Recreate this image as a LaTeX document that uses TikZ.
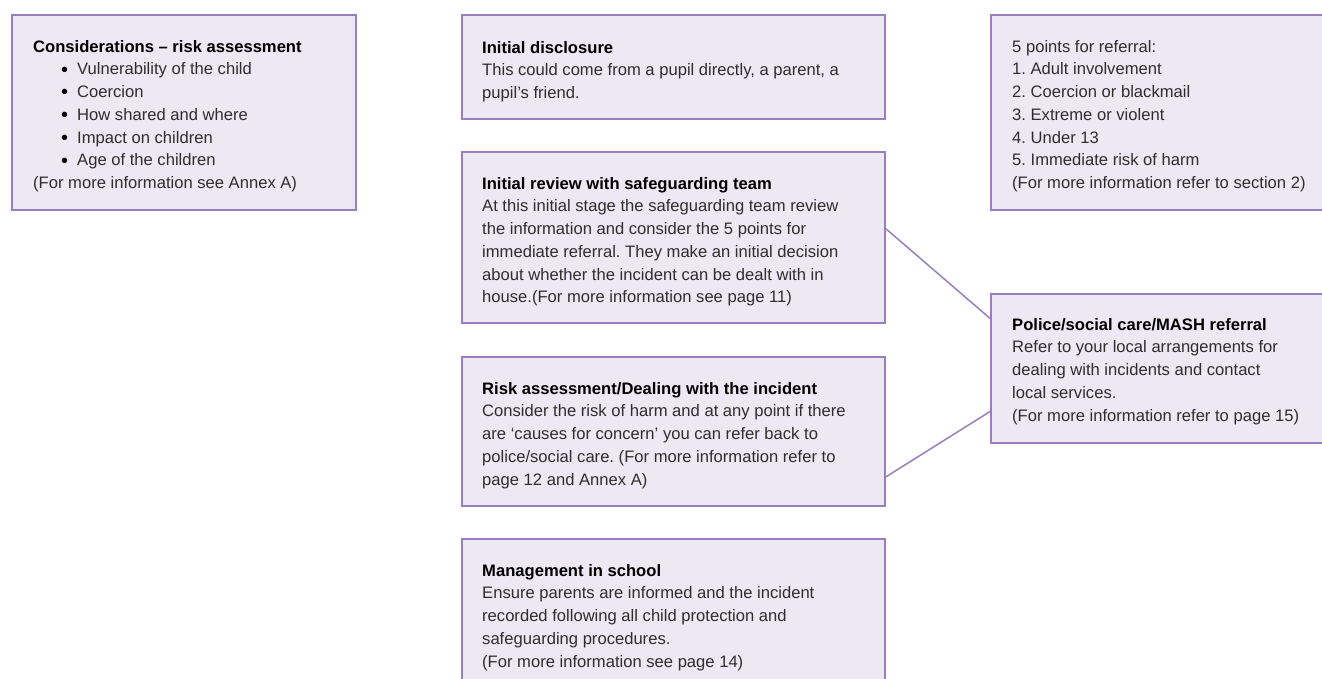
\documentclass[tikz,border=0pt]{standalone}
\usepackage{fontspec}
\setmainfont{Liberation Sans}
\usetikzlibrary{calc}
\frenchspacing
\definecolor{boxfill}{HTML}{ECE8F4}
\definecolor{boxline}{HTML}{9A7EBF}
\definecolor{bodytext}{HTML}{2E2E2E}
\newcommand{\hd}[1]{\textbf{\color{black}#1}}
\newcommand{\bul}{\makebox[44pt][r]{\color{black}\raisebox{-1.3pt}{\scalebox{1.2}{•}}\hspace{9pt}}}
\tikzset{
  panel/.style={draw=boxline, fill=boxfill, line width=2pt, rectangle, anchor=north west, inner sep=0pt},
  txt/.style={anchor=north west, inner sep=0pt, align=left, text=bodytext,
    font=\fontsize{16.6}{22.7}\selectfont\frenchspacing, execute at begin node=\strut},
  link/.style={draw=boxline, line width=1.5pt}
}
\begin{document}
\begin{tikzpicture}[x=1pt,y=-1pt]
\useasboundingbox (0,0) rectangle (1322,679);
\clip (0,0) rectangle (1322,679);
\fill[white] (0,0) rectangle (1322,679);
% boxes
\node[panel, minimum width=344pt, minimum height=195pt] (b1) at (11,14) {};
\node[panel, minimum width=423pt, minimum height=104pt] (b2) at (461,14) {};
\node[panel, minimum width=345pt, minimum height=195pt] (b3) at (990,14) {};
\node[panel, minimum width=423pt, minimum height=171pt] (b4) at (461,151) {};
\node[panel, minimum width=423pt, minimum height=149pt] (b5) at (461,356) {};
\node[panel, minimum width=423pt, minimum height=160pt] (b6) at (461,538) {};
\node[panel, minimum width=345pt, minimum height=149pt] (b7) at (990,293) {};
% texts
\node[txt] (t1) at (33,40) {\hd{Considerations – risk assessment}\\
\bul Vulnerability of the child\\
\bul Coercion\\
\bul How shared and where\\
\bul Impact on children\\
\bul Age of the children\\
(For more information see Annex A)};
\node[txt] (t2) at (482,41) {\hd{Initial disclosure}\\
This could come from a pupil directly, a parent, a\\
pupil’s friend.};
\node[txt] (t3) at (1012,40) {5 points for referral:\\
1. Adult involvement\\
2. Coercion or blackmail\\
3. Extreme or violent\\
4. Under 13\\
5. Immediate risk of harm\\
(For more information refer to section 2)};
\node[txt] (t4) at (482,177) {\hd{Initial review with safeguarding team}\\
At this initial stage the safeguarding team review\\
the information and consider the 5 points for\\
immediate referral. They make an initial decision\\
about whether the incident can be dealt with in\\
house.(For more information see page 11)};
\node[txt] (t5) at (482,382) {\hd{Risk assessment/Dealing with the incident}\\
Consider the risk of harm and at any point if there\\
are ‘causes for concern’ you can refer back to\\
police/social care. (For more information refer to\\
page 12 and Annex A)};
\node[txt] (t6) at (482,564) {\hd{Management in school}\\
Ensure parents are informed and the incident\\
recorded following all child protection and\\
safeguarding procedures.\\
(For more information see page 14)};
\node[txt] (t7) at (1012,318) {\hd{Police/social care/MASH referral}\\
Refer to your local arrangements for\\
dealing with incidents and contact\\
local services.\\
(For more information refer to page 15)};
% connectors
\draw[link] ($(b4.north east)!0.45!(b4.south east)$) -- ($(b7.north west)!0.168!(b7.south west)$);
\draw[link] ($(b5.north east)!0.80!(b5.south east)$) -- ($(b7.north west)!0.785!(b7.south west)$);
\end{tikzpicture}
\end{document}
